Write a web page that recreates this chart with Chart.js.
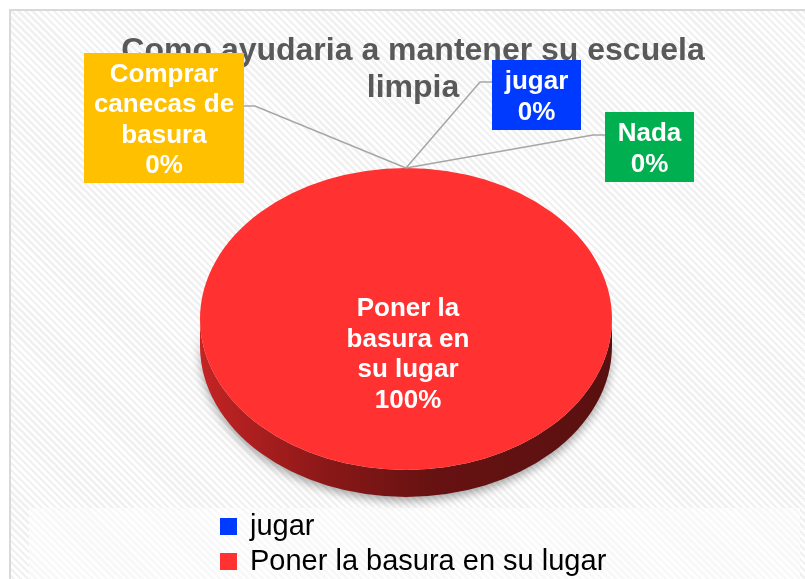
<!DOCTYPE html>
<html lang="es">
<head>
<meta charset="utf-8">
<title>Como ayudaria a mantener su escuela limpia</title>
<script src="https://cdn.jsdelivr.net/npm/chart.js@4.4.1/dist/chart.umd.min.js"></script>
<style>
  html, body { margin: 0; padding: 0; width: 805px; height: 579px; overflow: hidden; background: #fff; }
  #frame { position: absolute; left: 9px; top: 9px; width: 830px; height: 620px; border: 2px solid #d9d9d9;
    background: repeating-linear-gradient(45deg, #ffffff 0 2.5px, #f1f1f1 2.5px 5px); }
  #legendBox { position: absolute; left: 29px; top: 508px; width: 771px; height: 90px;
    background: repeating-linear-gradient(45deg, #fefefe 0 2.5px, #f8f8f8 2.5px 5px); }
  #chart { position: absolute; left: 0; top: 0; }
</style>
</head>
<body>
<div id="frame"></div>
<div id="legendBox"></div>
<canvas id="chart" width="805" height="579"></canvas>
<script>
  // ---- datos ----
  var TITLE_LINES = ["Como ayudaria a mantener su escuela", "limpia"];
  var CATEGORIES = ["Comprar canecas de basura", "jugar", "Poner la basura en su lugar", "Nada"];
  var VALUES = [0, 0, 100, 0];
  var COLORS = ["#FFC000", "#003AFF", "#FF3131", "#00B050"];
  var LEGEND_SHOWN = [1, 2]; // la leyenda del original está recortada: solo se ven estas dos

  // ---- estilo / posición de las etiquetas ----
  var FONT = "'Liberation Sans', Arial, sans-serif";
  var TILT = 0.733, DEPTH = 27;     // pastel "3D": aplastado y con canto
  var LINE_H = 30.5;
  var LABEL_BOXES = [
    { x: 84, y: 53, w: 160, h: 130, wrap: 150, lx: 244, ly: 106, ex: 255 },
    { x: 492, y: 60, w: 89, h: 70, wrap: 85, lx: 492, ly: 82, ex: 480 },
    null, // dentro del pastel
    { x: 605, y: 112, w: 89, h: 70, wrap: 85, lx: 605, ly: 135, ex: 593 }
  ];
  var INSIDE = { dx: 2, dy: 33.5, wrap: 130 };

  function wrap(ctx, text, maxW) {
    var words = text.split(" "), lines = [], cur = "";
    words.forEach(function (w) {
      var t = cur ? cur + " " + w : w;
      if (cur && ctx.measureText(t).width > maxW) { lines.push(cur); cur = w; } else cur = t;
    });
    if (cur) lines.push(cur);
    return lines;
  }

  function drawLines(ctx, lines, x, cy) {
    var n = lines.length;
    lines.forEach(function (s, i) { ctx.fillText(s, x, cy + (i - (n - 1) / 2) * LINE_H + 9.5); });
  }

  var pie3d = {
    id: "pie3d",
    beforeDatasetsDraw: function (chart) {
      var ctx = chart.ctx, a = chart.getDatasetMeta(0).data[0];
      var cx = a.x, cy = a.y, rx = a.outerRadius, ry = rx * TILT;

      // título
      ctx.save();
      ctx.font = "bold 32px " + FONT;
      ctx.fillStyle = "#595959";
      ctx.textAlign = "center";
      ctx.fillText(TITLE_LINES[0], 413, 60);
      ctx.fillText(TITLE_LINES[1], 413, 97);
      ctx.restore();

      // canto del pastel
      ctx.save();
      var g = ctx.createLinearGradient(cx - rx, 0, cx + rx, 0);
      g.addColorStop(0, "#c42424");
      g.addColorStop(0.3, "#8c1818");
      g.addColorStop(0.55, "#681212");
      g.addColorStop(1, "#5a1010");
      ctx.beginPath();
      ctx.moveTo(cx - rx, cy);
      ctx.lineTo(cx - rx, cy + DEPTH);
      ctx.ellipse(cx, cy + DEPTH, rx, ry, 0, Math.PI, 0, true);
      ctx.lineTo(cx + rx, cy);
      ctx.ellipse(cx, cy, rx, ry, 0, 0, Math.PI, false);
      ctx.closePath();
      ctx.shadowColor = "rgba(0,0,0,0.35)";
      ctx.shadowBlur = 10;
      ctx.shadowOffsetY = 4;
      ctx.fillStyle = g;
      ctx.fill();
      ctx.restore();

      // aplastar las porciones en vertical
      ctx.save();
      ctx.translate(cx, cy);
      ctx.scale(1, TILT);
      ctx.translate(-cx, -cy);
    },
    afterDatasetsDraw: function (chart) {
      var ctx = chart.ctx;
      ctx.restore();
      var arcs = chart.getDatasetMeta(0).data;
      var total = VALUES.reduce(function (s, v) { return s + v; }, 0);

      ctx.save();
      ctx.font = "bold 26px " + FONT;
      ctx.textAlign = "center";
      arcs.forEach(function (a, i) {
        var pct = Math.round(VALUES[i] / total * 100) + "%";
        var box = LABEL_BOXES[i];
        if (!box) {
          ctx.fillStyle = "#fff";
          var lines = wrap(ctx, CATEGORIES[i], INSIDE.wrap).concat([pct]);
          drawLines(ctx, lines, a.x + INSIDE.dx, a.y + INSIDE.dy);
          return;
        }
        // línea guía hasta el borde de la porción
        var ang = (a.startAngle + a.endAngle) / 2;
        var px = a.x + Math.cos(ang) * a.outerRadius, py = a.y + Math.sin(ang) * a.outerRadius * TILT;
        ctx.strokeStyle = "#a6a6a6";
        ctx.lineWidth = 1.5;
        ctx.beginPath();
        ctx.moveTo(box.lx, box.ly);
        ctx.lineTo(box.ex, box.ly);
        ctx.lineTo(px, py);
        ctx.stroke();
        ctx.fillStyle = COLORS[i];
        ctx.fillRect(box.x, box.y, box.w, box.h);
        ctx.fillStyle = "#fff";
        drawLines(ctx, wrap(ctx, CATEGORIES[i], box.wrap).concat([pct]), box.x + box.w / 2, box.y + box.h / 2);
      });
      ctx.restore();

      // leyenda
      ctx.save();
      ctx.font = "29px " + FONT;
      ctx.textAlign = "left";
      LEGEND_SHOWN.forEach(function (idx, k) {
        var base = 535 + k * 35;
        ctx.fillStyle = COLORS[idx];
        ctx.fillRect(220, base - 17, 17, 17);
        ctx.fillStyle = "#000";
        ctx.fillText(CATEGORIES[idx], 250, base);
      });
      ctx.restore();
    }
  };

  new Chart(document.getElementById("chart"), {
    type: "pie",
    data: { labels: CATEGORIES, datasets: [{ data: VALUES, backgroundColor: COLORS, borderWidth: 0 }] },
    options: {
      responsive: false,
      animation: false,
      events: [],
      layout: { padding: { left: 200, right: 193, top: 113, bottom: 54 } },
      plugins: { legend: { display: false }, title: { display: false }, tooltip: { enabled: false } }
    },
    plugins: [pie3d]
  });
</script>
</body>
</html>
